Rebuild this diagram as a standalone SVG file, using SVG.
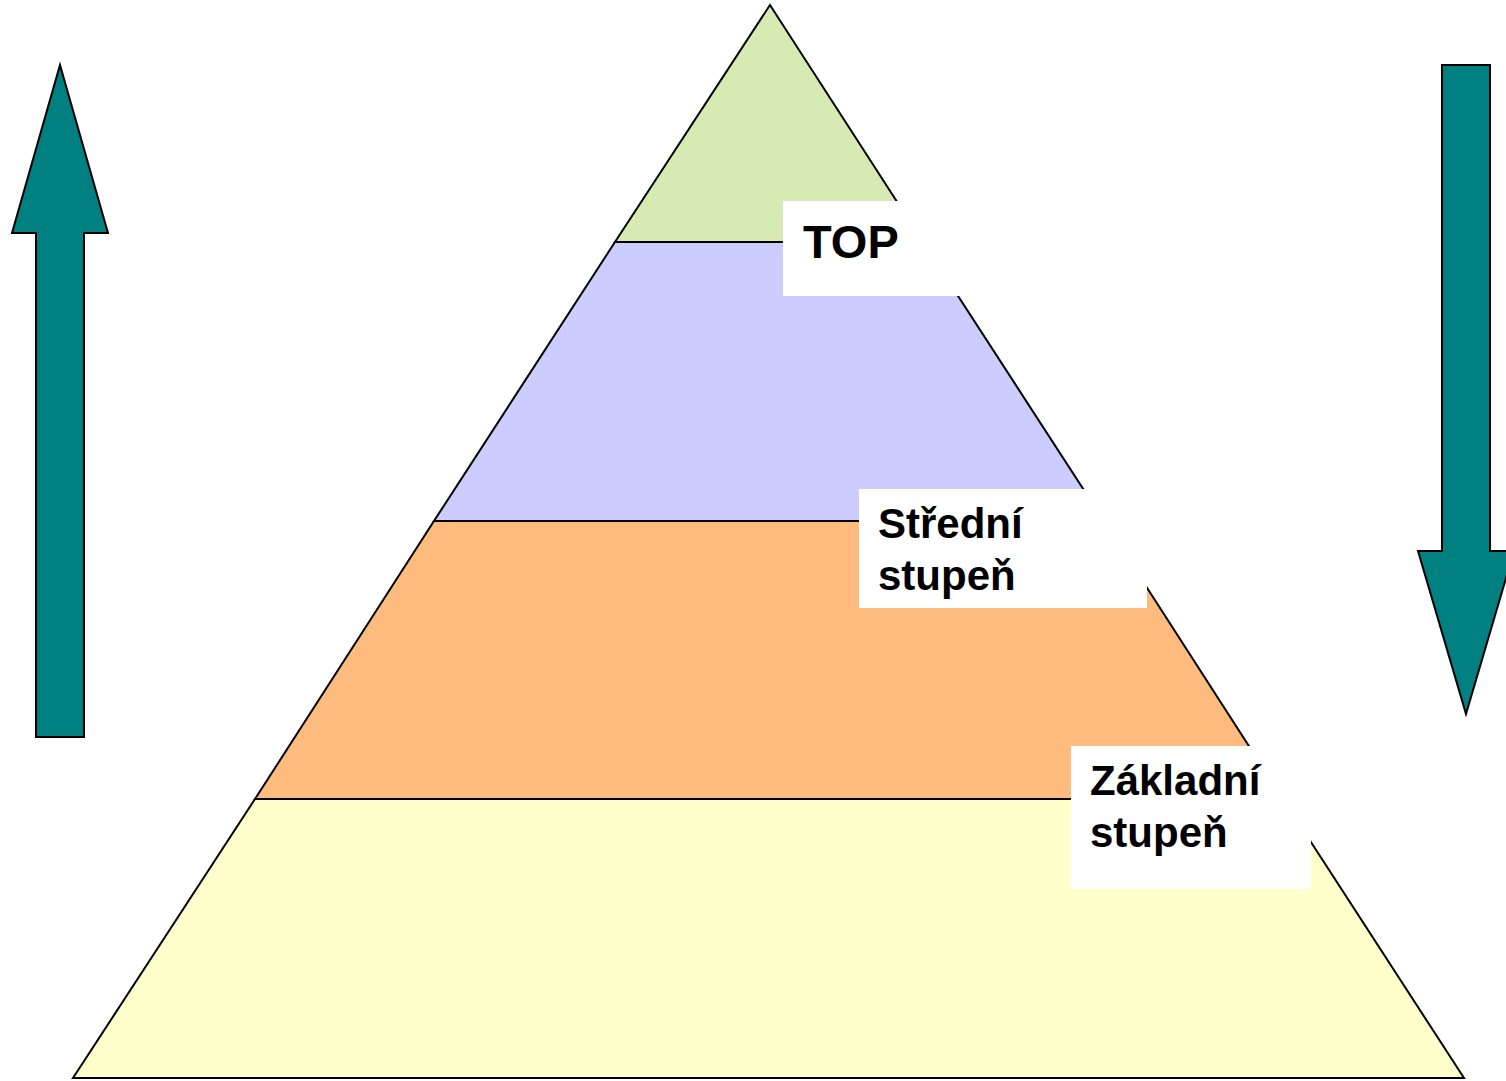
<svg xmlns="http://www.w3.org/2000/svg" width="1506" height="1081" viewBox="0 0 1506 1081">
<style>
.band{stroke:#000;stroke-width:2;stroke-linejoin:miter}
.arrow{fill:#008080;stroke:#000;stroke-width:2}
.box{fill:#fff}
.lbl{font-family:"Liberation Sans",Arial,sans-serif;font-weight:bold;fill:#000}
</style>
<rect width="1506" height="1081" fill="#fff"/>
<g id="pyramid">
<polygon id="band-top" class="band" fill="#D8EAB4" points="770,5 615,242 923,242"/>
<polygon id="band-mid" class="band" fill="#CCCCFF" points="615,242 923,242 1104,521 434,521"/>
<polygon id="band-low" class="band" fill="#FDBC7E" points="434,521 1104,521 1283,799 255,799"/>
<polygon id="band-base" class="band" fill="#FFFFCC" points="255,799 1283,799 1464,1078 73,1078"/>
</g>
<g id="arrow-up">
<polygon class="arrow" points="60,65 108,233 84,233 84,737 36,737 36,233 12,233"/>
</g>
<g id="arrow-down">
<polygon class="arrow" points="1442,65 1490,65 1490,551 1514,551 1466,714 1418,551 1442,551"/>
</g>
<g id="label-top">
<rect class="box" x="783" y="201" width="177" height="95"/>
<text class="lbl" x="803" y="258" font-size="47">TOP</text>
</g>
<g id="label-stredni">
<rect class="box" x="859" y="489" width="288" height="119"/>
<text class="lbl" x="878" y="538" font-size="42">Střední</text>
<text class="lbl" x="878" y="590" font-size="42">stupeň</text>
</g>
<g id="label-zakladni">
<rect class="box" x="1071" y="746" width="240" height="143"/>
<text class="lbl" x="1090" y="795" font-size="42">Základní</text>
<text class="lbl" x="1090" y="847" font-size="42">stupeň</text>
</g>
</svg>
